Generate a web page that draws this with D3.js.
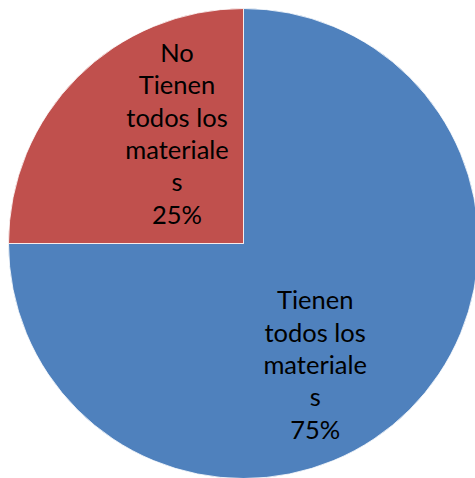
<!DOCTYPE html>
<html><head><meta charset="utf-8">
<script src="https://cdn.jsdelivr.net/npm/d3@7"></script>
<style>html,body{margin:0;padding:0;background:#fff;}</style>
</head><body>
<svg id="c" width="475" height="478"></svg>
<script>
const categories = ["Tienen todos los materiales", "No Tienen todos los materiales"];
const values = [75, 25];
const labelLines = [
  ["Tienen", "todos los", "materiale", "s", "75%"],
  ["No", "Tienen", "todos los", "materiale", "s", "25%"]
];
const colors = ["#4F81BD", "#C0504D"];

const svg = d3.select("#c");
const cx = 243.5, cy = 243.5, r = 235;
const g = svg.append("g").attr("transform", `translate(${cx},${cy})`);
const pie = d3.pie().sort(null).value(d => d)(values);
const arc = d3.arc().innerRadius(0).outerRadius(r);
g.selectAll("path").data(pie).join("path")
  .attr("d", arc).attr("fill", (d,i) => colors[i])
  .attr("stroke", "#fff").attr("stroke-width", 0.8);

// label anchors (first-line baseline), in fraction of radius
const anchors = [[0.305, 0.28], [-0.283, -0.772]];
const lh = 32.3;
pie.forEach((d, i) => {
  const t = g.append("text")
    .attr("text-anchor", "middle")
    .attr("font-family", "Lato, 'Noto Sans', sans-serif")
    .attr("font-size", 25.5)
    .attr("fill", "#000");
  labelLines[i].forEach((ln, j) => {
    t.append("tspan").attr("x", anchors[i][0] * r).attr("y", anchors[i][1] * r + j * lh).text(ln);
  });
});
</script>
</body></html>
